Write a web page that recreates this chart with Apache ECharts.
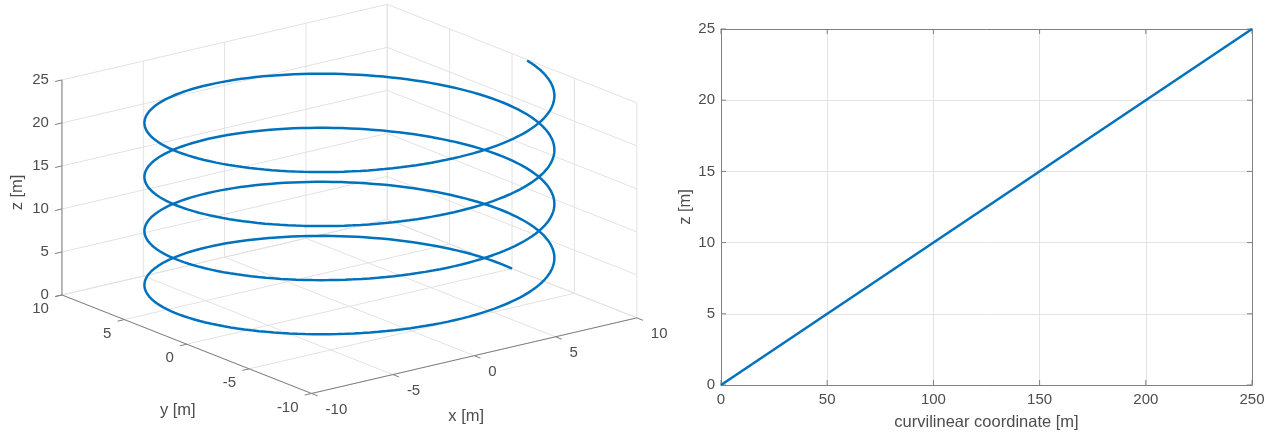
<!DOCTYPE html>
<html><head><meta charset="utf-8">
<script src="https://cdn.jsdelivr.net/npm/echarts@6/dist/echarts.min.js"></script>
<style>html,body{margin:0;padding:0;background:#fff}#c{width:1271px;height:435px}</style>
</head><body><div id="c"></div>
<script>
// ---------------- data ----------------
// 3D helix panel
const xTicks3d = [-10, -5, 0, 5, 10];
const yTicks3d = [-10, -5, 0, 5, 10];
const zTicks3d = [0, 5, 10, 15, 20, 25];
const xRange3d = [-10, 10];
const yRange3d = [-10, 10];
const zRange3d = [0, 25];
const helixRadius = 10;     // m
const helixParamEnd = 25;   // rad  (x = R cos t, y = R sin t, z = t)
const helixRise = 1;        // m of z per rad
// 2D panel: z vs curvilinear coordinate
const curvCoord = [0, 250];
const zOfCurv = [0, 25];
const sTicks = [0, 50, 100, 150, 200, 250];
const zTicks2d = [0, 5, 10, 15, 20, 25];

// ---------------- view (MATLAB default az/el) ----------------
const AZ = -37.5 * Math.PI / 180, EL = 30 * Math.PI / 180;
const VIEW = { cx: 349.4, cy: 198.9, sh: 410, sv: 248.3 };
function proj(x, y, z) {
  const nx = (x - (xRange3d[0] + xRange3d[1]) / 2) / (xRange3d[1] - xRange3d[0]);
  const ny = (y - (yRange3d[0] + yRange3d[1]) / 2) / (yRange3d[1] - yRange3d[0]);
  const nz = (z - (zRange3d[0] + zRange3d[1]) / 2) / (zRange3d[1] - zRange3d[0]);
  const h = nx * Math.cos(AZ) + ny * Math.sin(AZ);
  const v = -nx * Math.sin(AZ) * Math.sin(EL) + ny * Math.cos(AZ) * Math.sin(EL) + nz * Math.cos(EL);
  return [VIEW.cx + VIEW.sh * h, VIEW.cy - VIEW.sv * v];
}

const FONT = '"Liberation Sans", Arial, Helvetica, sans-serif';
const TICK_COLOR = '#4d4d4d';
const AXIS_COLOR = '#808080';
const GRID_COLOR = '#e3e3e3';
const LINE_COLOR = '#0072BD';
const TICK_LEN = 5;

const [x0, x1] = xRange3d, [y0, y1] = yRange3d, [z0, z1] = zRange3d;

// grid segments on the back planes
const gridSegs = [];
xTicks3d.forEach(x => { gridSegs.push([x, y0, z0, x, y1, z0]); gridSegs.push([x, y1, z0, x, y1, z1]); });
yTicks3d.forEach(y => { gridSegs.push([x0, y, z0, x1, y, z0]); gridSegs.push([x1, y, z0, x1, y, z1]); });
zTicks3d.forEach(z => { gridSegs.push([x0, y1, z, x1, y1, z]); gridSegs.push([x1, y0, z, x1, y1, z]); });

// axis lines + outward ticks
const axisSegs = [
  [x0, y1, z0, x0, y1, z1],
  [x0, y0, z0, x0, y1, z0],
  [x0, y0, z0, x1, y0, z0]
];
zTicks3d.forEach(z => axisSegs.push([x0, y1, z, x0 - 0.42, y1, z]));
yTicks3d.forEach(y => axisSegs.push([x0, y, z0, x0 - 0.42, y, z0]));
xTicks3d.forEach(x => axisSegs.push([x, y0, z0, x, y0 - 0.5, z0]));

// helix polyline (projected)
const helixPts = [];
for (let t = 0; t <= helixParamEnd + 1e-9; t += 0.04) {
  helixPts.push(proj(helixRadius * Math.cos(t), helixRadius * Math.sin(t), helixRise * t));
}

function segSeries(segs, color) {
  return {
    type: 'custom', xAxisIndex: 0, yAxisIndex: 0, silent: true,
    data: segs,
    renderItem: function (params, api) {
      const a = api.coord(proj(api.value(0), api.value(1), api.value(2)));
      const b = api.coord(proj(api.value(3), api.value(4), api.value(5)));
      return { type: 'line', shape: { x1: a[0], y1: a[1], x2: b[0], y2: b[1] },
               style: { stroke: color, lineWidth: 1 } };
    }
  };
}

function labelSeries(points, texts, dx, dy, align, size, rot) {
  return {
    type: 'custom', xAxisIndex: 0, yAxisIndex: 0, silent: true,
    data: points,
    renderItem: function (params, api) {
      const p = api.coord(proj(api.value(0), api.value(1), api.value(2)));
      return {
        type: 'text', x: p[0] + dx, y: p[1] + dy, rotation: rot || 0,
        style: { text: texts[params.dataIndex], fill: TICK_COLOR,
                 font: size + 'px ' + FONT, textAlign: align, align: align,
                 textVerticalAlign: 'middle', verticalAlign: 'middle' }
      };
    }
  };
}

// inward ticks on all four sides of the 2D box
function boxTickSeries(values, isX) {
  return {
    type: 'custom', xAxisIndex: 1, yAxisIndex: 1, silent: true, clip: false,
    data: values.map(v => isX ? [v, zTicks2d[0]] : [sTicks[0], v]),
    renderItem: function (params, api) {
      const v = isX ? api.value(0) : api.value(1);
      let a, b;
      if (isX) {
        a = api.coord([v, zTicks2d[0]]);
        b = api.coord([v, zTicks2d[zTicks2d.length - 1]]);
        return { type: 'group', children: [
          { type: 'line', shape: { x1: a[0], y1: a[1], x2: a[0], y2: a[1] - TICK_LEN }, style: { stroke: AXIS_COLOR, lineWidth: 1 } },
          { type: 'line', shape: { x1: b[0], y1: b[1], x2: b[0], y2: b[1] + TICK_LEN }, style: { stroke: AXIS_COLOR, lineWidth: 1 } }
        ] };
      }
      a = api.coord([sTicks[0], v]);
      b = api.coord([sTicks[sTicks.length - 1], v]);
      return { type: 'group', children: [
        { type: 'line', shape: { x1: a[0], y1: a[1], x2: a[0] + TICK_LEN, y2: a[1] }, style: { stroke: AXIS_COLOR, lineWidth: 1 } },
        { type: 'line', shape: { x1: b[0], y1: b[1], x2: b[0] - TICK_LEN, y2: b[1] }, style: { stroke: AXIS_COLOR, lineWidth: 1 } }
      ] };
    }
  };
}

const chart = echarts.init(document.getElementById('c'), null, { renderer: 'canvas' });
const axisCommon = {
  axisLine: { show: true, onZero: false, lineStyle: { color: AXIS_COLOR, width: 1 } },
  axisTick: { show: false },
  axisLabel: { color: TICK_COLOR, fontSize: 15, fontFamily: FONT },
  splitLine: { show: true, lineStyle: { color: GRID_COLOR, width: 1 } }
};

chart.setOption({
  animation: false,
  backgroundColor: '#ffffff',
  grid: [
    { left: 0, top: 0, width: 660, height: 435, outerBoundsMode: 'none', containLabel: false },
    { left: 721, top: 29, width: 531, height: 356, outerBoundsMode: 'none', containLabel: false }
  ],
  xAxis: [
    { gridIndex: 0, type: 'value', min: 0, max: 660, show: false },
    Object.assign({}, axisCommon, {
      gridIndex: 1, type: 'value', min: 0, max: 250, interval: 50,
      axisLabel: Object.assign({}, axisCommon.axisLabel, { margin: 7 }),
      name: 'curvilinear coordinate [m]', nameLocation: 'middle', nameGap: 29,
      nameTextStyle: { color: TICK_COLOR, fontSize: 16.5, fontFamily: FONT }
    }),
    Object.assign({}, axisCommon, {
      gridIndex: 1, type: 'value', min: 0, max: 250, interval: 50, position: 'top',
      axisLabel: { show: false }, splitLine: { show: false }
    })
  ],
  yAxis: [
    { gridIndex: 0, type: 'value', min: 0, max: 435, inverse: true, show: false },
    Object.assign({}, axisCommon, {
      gridIndex: 1, type: 'value', min: 0, max: 25, interval: 5,
      axisLabel: Object.assign({}, axisCommon.axisLabel, { margin: 6 }),
      name: 'z [m]', nameLocation: 'middle', nameGap: 24,
      nameTextStyle: { color: TICK_COLOR, fontSize: 16.5, fontFamily: FONT }
    }),
    Object.assign({}, axisCommon, {
      gridIndex: 1, type: 'value', min: 0, max: 25, interval: 5, position: 'right',
      axisLabel: { show: false }, splitLine: { show: false }
    })
  ],
  series: [
    segSeries(gridSegs, GRID_COLOR),
    segSeries(axisSegs, AXIS_COLOR),
    {
      type: 'line', xAxisIndex: 0, yAxisIndex: 0, data: helixPts, showSymbol: false,
      clip: false, silent: true, lineStyle: { color: LINE_COLOR, width: 2.5 }
    },
    labelSeries(zTicks3d.map(z => [x0, y1, z]), zTicks3d.map(String), -13, 0, 'right', 15),
    labelSeries(yTicks3d.map(y => [x0, y, z0]), yTicks3d.map(String), -13, 14, 'right', 15),
    labelSeries(xTicks3d.map(x => [x, y0, z0]), xTicks3d.map(String), 14, 16, 'left', 15),
    labelSeries([[0, y0, z0]], ['x [m]'], -8, 61, 'center', 16.5),
    labelSeries([[x0, 0, z0]], ['y [m]'], -9, 66, 'center', 16.5),
    labelSeries([[x0, y1, (z0 + z1) / 2]], ['z [m]'], -45, 5, 'center', 16.5, Math.PI / 2),
    boxTickSeries(sTicks, true),
    boxTickSeries(zTicks2d, false),
    {
      type: 'line', xAxisIndex: 1, yAxisIndex: 1,
      data: curvCoord.map((s, i) => [s, zOfCurv[i]]),
      showSymbol: false, silent: true, lineStyle: { color: LINE_COLOR, width: 2.5 }
    }
  ]
});
</script>
</body></html>
